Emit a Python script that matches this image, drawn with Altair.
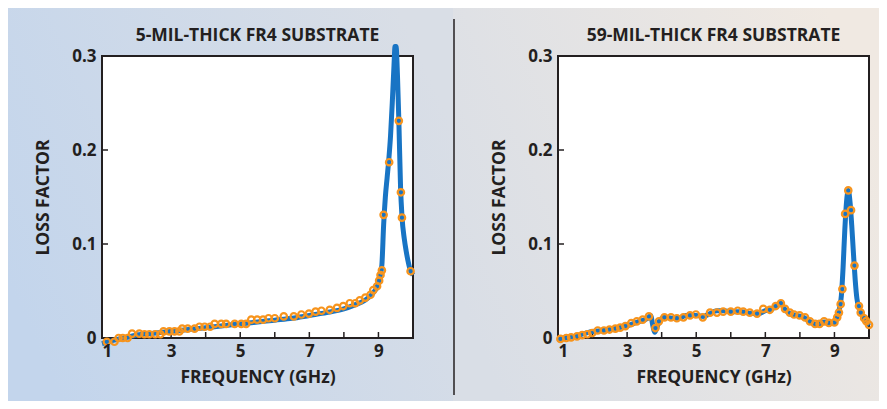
import altair as alt
import pandas as pd

# ---------------- data ----------------
left_meas_f = [1.14, 1.36, 1.48, 1.60, 1.74, 1.87, 2.08, 2.23, 2.37, 2.54, 2.69, 2.78, 2.95, 3.10,
               3.24, 3.32, 3.48, 3.68, 3.82, 3.97, 4.13, 4.26, 4.45, 4.59, 4.84, 5.03, 5.17, 5.32,
               5.49, 5.66, 5.82, 6.00, 6.26, 6.55, 6.77, 6.99, 7.18, 7.35, 7.59, 7.80, 7.98, 8.17,
               8.33, 8.46, 8.62, 8.77, 8.85, 8.96, 9.02, 9.06, 9.10, 9.15, 9.31, 9.59, 9.65, 9.68,
               9.93]
left_meas_v = [-0.004, -0.004, 0.000, 0.000, 0.000, 0.0046, 0.0046, 0.004, 0.004, 0.004, 0.004, 0.007,
               0.007, 0.007, 0.007, 0.010, 0.010, 0.010, 0.012, 0.012, 0.012, 0.015, 0.015, 0.015,
               0.015, 0.015, 0.015, 0.0195, 0.0195, 0.0195, 0.021, 0.021, 0.023, 0.023, 0.025, 0.026,
               0.028, 0.029, 0.030, 0.032, 0.034, 0.037, 0.037, 0.040, 0.043, 0.046, 0.051, 0.055,
               0.061, 0.067, 0.072, 0.131, 0.187, 0.231, 0.155, 0.128, 0.071]

left_model_f = [1.0, 1.5, 2.0, 2.5, 3.0, 3.5, 4.0, 4.5, 5.0, 5.5, 6.0, 6.5, 7.0, 7.5, 8.0, 8.3, 8.6,
                8.8, 9.0, 9.05, 9.1, 9.15, 9.2, 9.25, 9.3, 9.35, 9.4, 9.45, 9.48, 9.51, 9.55, 9.59,
                9.64, 9.68, 9.75, 9.8, 9.85, 9.9, 9.95, 10.0]
left_model_v = [-0.006, -0.001, 0.003, 0.005, 0.007, 0.009, 0.011, 0.013, 0.015, 0.017, 0.019, 0.021,
                0.024, 0.027, 0.031, 0.035, 0.040, 0.046, 0.058, 0.066, 0.078, 0.120, 0.150, 0.170,
                0.190, 0.215, 0.250, 0.290, 0.310, 0.310, 0.280, 0.232, 0.160, 0.130, 0.105, 0.093,
                0.083, 0.075, 0.070, 0.067]

right_meas_f = [1.07, 1.24, 1.38, 1.55, 1.70, 1.85, 1.99, 2.15, 2.33, 2.49, 2.66, 2.80, 2.95, 3.12,
                3.28, 3.45, 3.63, 3.82, 3.92, 4.08, 4.27, 4.44, 4.63, 4.82, 4.99, 5.19, 5.40, 5.60,
                5.78, 6.00, 6.20, 6.36, 6.55, 6.76, 6.94, 7.13, 7.30, 7.45, 7.57, 7.71, 7.83, 7.99,
                8.15, 8.29, 8.44, 8.57, 8.70, 8.84, 9.00, 9.08, 9.13, 9.18, 9.23, 9.31, 9.40, 9.48,
                9.58, 9.71, 9.76, 9.86, 9.92, 10.0]
right_meas_v = [-0.001, 0.000, 0.0007, 0.0018, 0.003, 0.004, 0.0053, 0.008, 0.008, 0.009, 0.010, 0.011,
                0.0127, 0.0159, 0.0177, 0.0195, 0.023, 0.0106, 0.0177, 0.022, 0.022, 0.021, 0.022,
                0.024, 0.025, 0.022, 0.027, 0.027, 0.028, 0.028, 0.029, 0.028, 0.027, 0.026, 0.031,
                0.030, 0.034, 0.037, 0.031, 0.027, 0.025, 0.024, 0.022, 0.0177, 0.015, 0.015, 0.0177,
                0.016, 0.0166, 0.022, 0.027, 0.036, 0.052, 0.132, 0.157, 0.136, 0.077, 0.034, 0.027,
                0.021, 0.018, 0.014]

right_model_f = [1.0, 1.5, 2.0, 2.3, 2.6, 3.0, 3.3, 3.6, 3.68, 3.75, 3.8, 3.87, 3.95, 4.1, 4.3, 4.5,
                 4.7, 5.0, 5.2, 5.4, 5.6, 5.8, 6.0, 6.3, 6.6, 6.8, 7.0, 7.2, 7.45, 7.55, 7.7, 7.9,
                 8.1, 8.3, 8.5, 8.7, 8.85, 9.0, 9.1, 9.2, 9.25, 9.3, 9.35, 9.4, 9.45, 9.5, 9.55,
                 9.6, 9.65, 9.7, 9.8, 9.9, 10.0]
right_model_v = [-0.001, 0.002, 0.007, 0.008, 0.010, 0.013, 0.017, 0.021, 0.024, 0.012, 0.006, 0.012,
                 0.019, 0.022, 0.021, 0.021, 0.024, 0.024, 0.023, 0.026, 0.029, 0.029, 0.028, 0.028,
                 0.026, 0.026, 0.029, 0.031, 0.037, 0.031, 0.026, 0.024, 0.022, 0.017, 0.014, 0.017,
                 0.016, 0.016, 0.025, 0.045, 0.075, 0.115, 0.145, 0.157, 0.145, 0.120, 0.090, 0.062,
                 0.042, 0.033, 0.025, 0.018, 0.013]

x_label_values = [1, 3, 5, 7, 9]
x_tick_values = [2, 3, 4, 5, 6, 7, 8, 9]
y_label_values = [0, 0.1, 0.2, 0.3]
y_tick_values = [0.1, 0.2]

titles = ["5-MIL-THICK FR4 SUBSTRATE", "59-MIL-THICK FR4 SUBSTRATE"]

# ---------------- styling ----------------
W, H = 311, 282
FONT = "Open Sans"
INK = "#231f20"
BLUE = "#1874c4"
ORANGE = "#f7941d"
X_DOM = [1, 10]
Y_DOM = [0, 0.3]
TICK_PX = 6
x_per_px = (X_DOM[1] - X_DOM[0]) / W
y_per_px = (Y_DOM[1] - Y_DOM[0]) / H

xs = alt.Scale(domain=X_DOM, nice=False, zero=False)
ys = alt.Scale(domain=Y_DOM, nice=False, zero=False)

x_axis = alt.Axis(values=x_label_values, format="d", title="FREQUENCY (GHz)", tickSize=0,
                  domain=False, grid=False, labelPadding=5, titlePadding=9, zindex=1,
                  labelFont=FONT, labelFontSize=17, labelFontWeight="bold", labelColor=INK,
                  titleFont=FONT, titleFontSize=17.5, titleFontWeight="bold", titleColor=INK)
y_axis = alt.Axis(values=y_label_values, format="~g", title="LOSS FACTOR", tickSize=0,
                  domain=False, grid=False, labelPadding=6, titlePadding=19, zindex=1,
                  labelFont=FONT, labelFontSize=17, labelFontWeight="bold", labelColor=INK,
                  titleFont=FONT, titleFontSize=17.5, titleFontWeight="bold", titleColor=INK)


def gradient(c0, c1):
    return alt.Gradient(gradient="linear", x1=0, y1=0.7, x2=1, y2=0.3,
                        stops=[alt.GradientStop(color=c0, offset=0),
                               alt.GradientStop(color=c1, offset=1)])


def panel(title, mf, mv, lf, lv, bg, bx, bx2, divider=False):
    one = alt.Data(values=[{}])
    meas = pd.DataFrame({"f": mf, "v": mv})
    model = pd.DataFrame({"f": lf, "v": lv})
    xt = pd.DataFrame({"f": x_tick_values, "v0": [Y_DOM[0]] * len(x_tick_values),
                       "v1": [Y_DOM[0] + TICK_PX * y_per_px] * len(x_tick_values)})
    yt = pd.DataFrame({"v": y_tick_values, "f0": [X_DOM[0]] * len(y_tick_values),
                       "f1": [X_DOM[0] + TICK_PX * x_per_px] * len(y_tick_values)})

    back = alt.Chart(one).mark_rect(fill=bg, strokeWidth=0).encode(
        x=alt.value(bx), x2=alt.value(bx2), y=alt.value(-48), y2=alt.value(H + 63))
    frame = alt.Chart(one).mark_rect(fill="white", stroke=INK, strokeWidth=2).encode(
        x=alt.value(0), x2=alt.value(W), y=alt.value(0), y2=alt.value(H))
    head = alt.Chart(alt.Data(values=[{"t": title}])).mark_text(
        font=FONT, fontSize=17.5, fontWeight="bold", color=INK, align="center",
        baseline="alphabetic").encode(text="t:N", x=alt.value(W / 2), y=alt.value(-15))
    xticks = alt.Chart(xt).mark_rule(color=INK, strokeWidth=1.5).encode(
        x=alt.X("f:Q", scale=xs, axis=x_axis),
        y=alt.Y("v0:Q", scale=ys, axis=y_axis), y2="v1:Q")
    yticks = alt.Chart(yt).mark_rule(color=INK, strokeWidth=1.5).encode(
        x=alt.X("f0:Q", scale=xs, axis=x_axis), x2="f1:Q",
        y=alt.Y("v:Q", scale=ys, axis=y_axis))
    line = alt.Chart(model).mark_line(color=BLUE, strokeWidth=5, interpolate="monotone").encode(
        x=alt.X("f:Q", scale=xs, axis=x_axis), y=alt.Y("v:Q", scale=ys, axis=y_axis))
    pts = alt.Chart(meas).mark_point(shape="circle", filled=False, color=ORANGE, strokeWidth=2.2,
                                     size=42, opacity=1).encode(
        x=alt.X("f:Q", scale=xs, axis=x_axis), y=alt.Y("v:Q", scale=ys, axis=y_axis))
    layers = [back, frame, head, xticks, yticks, line, pts]
    if divider:
        div = alt.Chart(one).mark_rule(color=INK, strokeWidth=1.5).encode(
            x=alt.value(bx + 1), y=alt.value(-37), y2=alt.value(H + 57))
        layers.append(div)
    return alt.layer(*layers).properties(width=W, height=H)


left = panel(titles[0], left_meas_f, left_meas_v, left_model_f, left_model_v,
             gradient("#c3d5ec", "#d9dee6"), -94, 351)
right = panel(titles[1], right_meas_f, right_meas_v, right_model_f, right_model_v,
              gradient("#d9dee6", "#f0e9e2"), -105, 321, divider=True)

chart = alt.hconcat(left, right, spacing=0).properties(padding=0, background="white").configure_view(
    stroke=None)

chart.save("out.html", embed_options={"renderer": "svg", "actions": False})
